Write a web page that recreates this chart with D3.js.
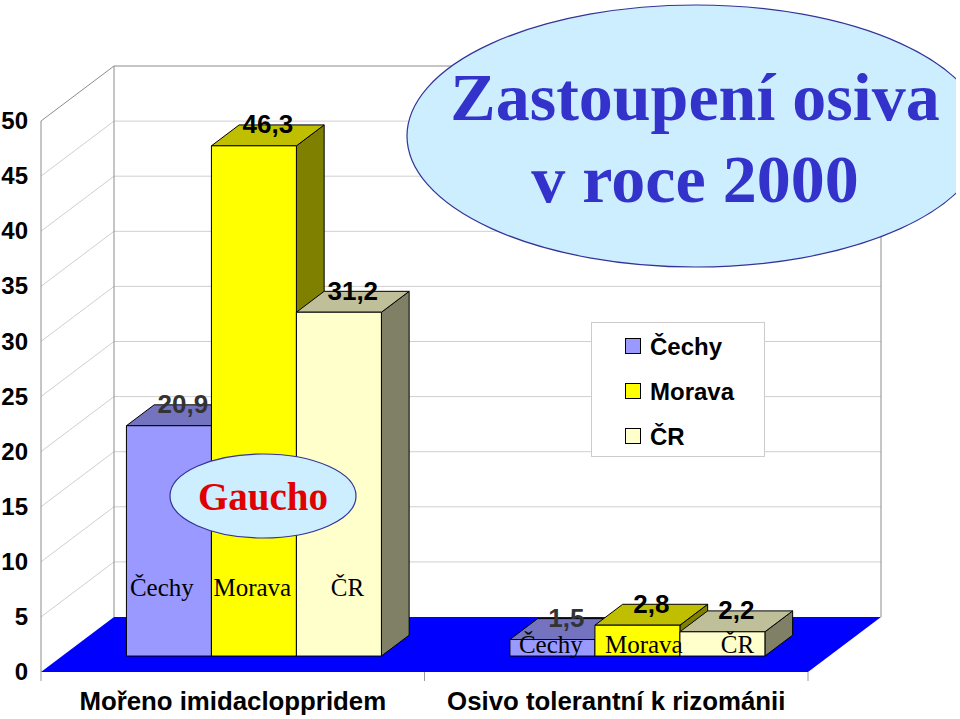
<!DOCTYPE html>
<html lang="cs">
<head>
<meta charset="utf-8">
<title>Zastoupení osiva v roce 2000</title>
<script src="https://cdn.jsdelivr.net/npm/d3@7/dist/d3.min.js"></script>
<style>
  html, body { margin: 0; padding: 0; background: #ffffff; }
  svg { display: block; }
  .sans { font-family: "Liberation Sans", Arial, sans-serif; font-weight: bold; }
  .serif { font-family: "Liberation Serif", "Times New Roman", serif; }
</style>
</head>
<body>
<svg id="chart" width="960" height="719"></svg>
<script>
// ---- data ----
const categories = ["Mořeno imidacloppridem", "Osivo tolerantní k rizománii"];
const seriesNames = ["Čechy", "Morava", "ČR"];
const cechy  = [20.9, 1.5];
const morava = [46.3, 2.8];
const cr     = [31.2, 2.2];
const yTicks = [0, 5, 10, 15, 20, 25, 30, 35, 40, 45, 50];
const titleLines = ["Zastoupení osiva", "v roce 2000"];
const calloutText = "Gaucho";

const seriesValues = [cechy, morava, cr];

// ---- styling ----
const frontColors = ["#9999ff", "#ffff00", "#ffffcc"];
const labelColors = ["#333333", "#000000", "#000000"];

// ---- layout ----
const W = 960, H = 719;
const DX = 73, DY = 55;          // oblique depth offset of the 3-D box
const T0 = 0.29, T1 = 0.67;      // bar depth slab within the box
const svg = d3.select("#chart");

const x0 = d3.scaleBand().domain(categories).range([41, 808]).padding(0);
const x1 = d3.scaleBand().domain(seriesNames).range([0, x0.bandwidth()])
  .paddingInner(0).paddingOuter(0.756);
const y = d3.scaleLinear().domain([0, 50]).range([672, 121]);

// project a point (x on the front plane, value, depth fraction) to screen
const P = (x, v, t) => [x + DX * t, y(v) - DY * t];
const poly = pts => "M" + pts.map(p => p.join(",")).join("L") + "Z";

const xL = x0.range()[0], xR = x0.range()[1];
const vMax = d3.max(yTicks);

// ---- walls ----
const walls = svg.append("g");
// side wall
walls.append("path")
  .attr("d", poly([P(xL, 0, 0), P(xL, vMax, 0), P(xL, vMax, 1), P(xL, 0, 1)]))
  .attr("fill", "#ffffff");
// back wall
walls.append("path")
  .attr("d", poly([P(xL, 0, 1), P(xL, vMax, 1), P(xR, vMax, 1), P(xR, 0, 1)]))
  .attr("fill", "#ffffff");

// gridlines on the side and back walls
const grid = svg.append("g").attr("stroke", "#cfcfcf").attr("stroke-width", 1).attr("fill", "none");
yTicks.filter(v => v > 0 && v < vMax).forEach(v => {
  grid.append("path").attr("d", "M" + P(xL, v, 0) + "L" + P(xL, v, 1) + "L" + P(xR, v, 1));
});

// wall edges
const edges = svg.append("g").attr("stroke", "#8c8c8c").attr("stroke-width", 1).attr("fill", "none");
edges.append("path").attr("d", "M" + P(xL, 0, 0) + "L" + P(xL, vMax, 0) + "L" + P(xL, vMax, 1) + "L" + P(xR, vMax, 1) + "L" + P(xR, 0, 1));
edges.append("path").attr("d", "M" + P(xL, 0, 1) + "L" + P(xL, vMax, 1));

// floor
svg.append("path")
  .attr("d", poly([P(xL, 0, 0), P(xR, 0, 0), P(xR, 0, 1), P(xL, 0, 1)]))
  .attr("fill", "#0000ff");

// category boundary tick marks under the floor
const bounds = [xL].concat(categories.map(c => x0(c) + x0.bandwidth()));
svg.append("g").selectAll("line").data(bounds).join("line")
  .attr("x1", d => d).attr("x2", d => d)
  .attr("y1", y(0)).attr("y2", y(0) + 9)
  .attr("stroke", "#9a9a9a").attr("stroke-width", 1);

// ---- value axis labels ----
const yAxis = svg.append("g")
  .attr("transform", `translate(${xL},0)`)
  .call(d3.axisLeft(y).tickValues(yTicks).tickSize(0).tickPadding(13));
yAxis.select(".domain").remove();
yAxis.selectAll("text")
  .attr("class", "sans")
  .style("font-size", "24px")
  .attr("fill", "#000");

// ---- category axis labels ----
const xAxis = svg.append("g")
  .attr("transform", `translate(0,${y(0)})`)
  .call(d3.axisBottom(x0).tickSize(0).tickPadding(0));
xAxis.select(".domain").remove();
xAxis.selectAll("text")
  .attr("class", "sans")
  .style("font-size", "25.8px")
  .attr("fill", "#000")
  .attr("y", 38)
  .attr("dy", 0);

// ---- legend ----
const legend = svg.append("g");
legend.append("rect")
  .attr("x", 591.5).attr("y", 322.5).attr("width", 173).attr("height", 134)
  .attr("fill", "#ffffff").attr("stroke", "#cccccc").attr("stroke-width", 1);
seriesNames.forEach((name, i) => {
  const cy = 346 + i * 45;
  legend.append("rect")
    .attr("x", 625.5).attr("y", cy - 7.5).attr("width", 15).attr("height", 15)
    .attr("fill", frontColors[i]).attr("stroke", "#000").attr("stroke-width", 1);
  legend.append("text")
    .attr("class", "sans").style("font-size", "24px")
    .attr("x", 650).attr("y", cy + 9)
    .text(name);
});

// ---- bars ----
const shade = (c, k) => { const r = d3.rgb(c); return d3.rgb(r.r * k, r.g * k, r.b * k).formatHex(); };
const fmt = v => d3.format(".1f")(v).replace(".", ",");

const bars = svg.append("g");
categories.forEach((cat, ci) => {
  seriesNames.forEach((s, si) => {
    const v = seriesValues[si][ci];
    const xa = x0(cat) + x1(s);
    const xb = xa + x1.bandwidth();
    const c = frontColors[si];
    const g = bars.append("g").attr("stroke", "#000").attr("stroke-width", 1).attr("stroke-linejoin", "round");
    // side face
    g.append("path").attr("fill", shade(c, 0.5))
      .attr("d", poly([P(xb, 0, T0), P(xb, v, T0), P(xb, v, T1), P(xb, 0, T1)]));
    // top face
    g.append("path").attr("fill", shade(c, 0.75))
      .attr("d", poly([P(xa, v, T0), P(xb, v, T0), P(xb, v, T1), P(xa, v, T1)]));
    // front face
    g.append("path").attr("fill", c)
      .attr("d", poly([P(xa, 0, T0), P(xb, 0, T0), P(xb, v, T0), P(xa, v, T0)]));
    // value label centred on the top face
    const tm = (T0 + T1) / 2;
    const lp = P((xa + xb) / 2, v, tm);
    bars.append("text")
      .attr("class", "sans").style("font-size", "26px")
      .attr("text-anchor", "middle")
      .attr("x", lp[0]).attr("y", lp[1] - 2)
      .attr("fill", labelColors[si])
      .text(fmt(v));
  });
});

// ---- region names written on the bars ----
const nameRise = [60, 3.3];                       // baseline above bar bottom, per group
const namePad = [[3.5, 2, 8.5], [9, 10, 15]];      // horizontal inset, per group / series
const names = svg.append("g");
categories.forEach((cat, ci) => {
  seriesNames.forEach((s, si) => {
    const xa = x0(cat) + x1(s);
    const bottom = P(xa, 0, T0);
    const last = si === seriesNames.length - 1;
    names.append("text")
      .attr("class", "serif").style("font-size", "25px")
      .attr("text-anchor", last ? "middle" : "start")
      .attr("x", last ? bottom[0] + x1.bandwidth() / 2 + namePad[ci][si] : bottom[0] + namePad[ci][si])
      .attr("y", bottom[1] - nameRise[ci])
      .attr("fill", "#000")
      .text(s);
  });
});

// ---- "Gaucho" callout ----
const callout = svg.append("g");
callout.append("ellipse")
  .attr("cx", 263).attr("cy", 496).attr("rx", 93).attr("ry", 42)
  .attr("fill", "#cceeff").attr("stroke", "#333399").attr("stroke-width", 1.2);
callout.append("text")
  .attr("class", "serif").style("font-size", "39px").style("font-weight", "bold")
  .attr("text-anchor", "middle").attr("x", 263).attr("y", 510)
  .attr("fill", "#e00000")
  .text(calloutText);

// ---- title bubble ----
svg.append("clipPath").attr("id", "titleClip")
  .append("rect").attr("x", 0).attr("y", 0).attr("width", 956).attr("height", H);
const title = svg.append("g").attr("clip-path", "url(#titleClip)");
title.append("ellipse")
  .attr("cx", 696).attr("cy", 136).attr("rx", 289).attr("ry", 131)
  .attr("fill", "#cceeff").attr("stroke", "#333399").attr("stroke-width", 1.2);
title.selectAll("text.t").data(titleLines).join("text")
  .attr("class", "serif t").style("font-size", "68px").style("font-weight", "bold")
  .attr("text-anchor", "middle").attr("x", 695)
  .attr("y", (d, i) => 120 + i * 81.7)
  .attr("fill", "#3333cc")
  .text(d => d);
</script>
</body>
</html>
